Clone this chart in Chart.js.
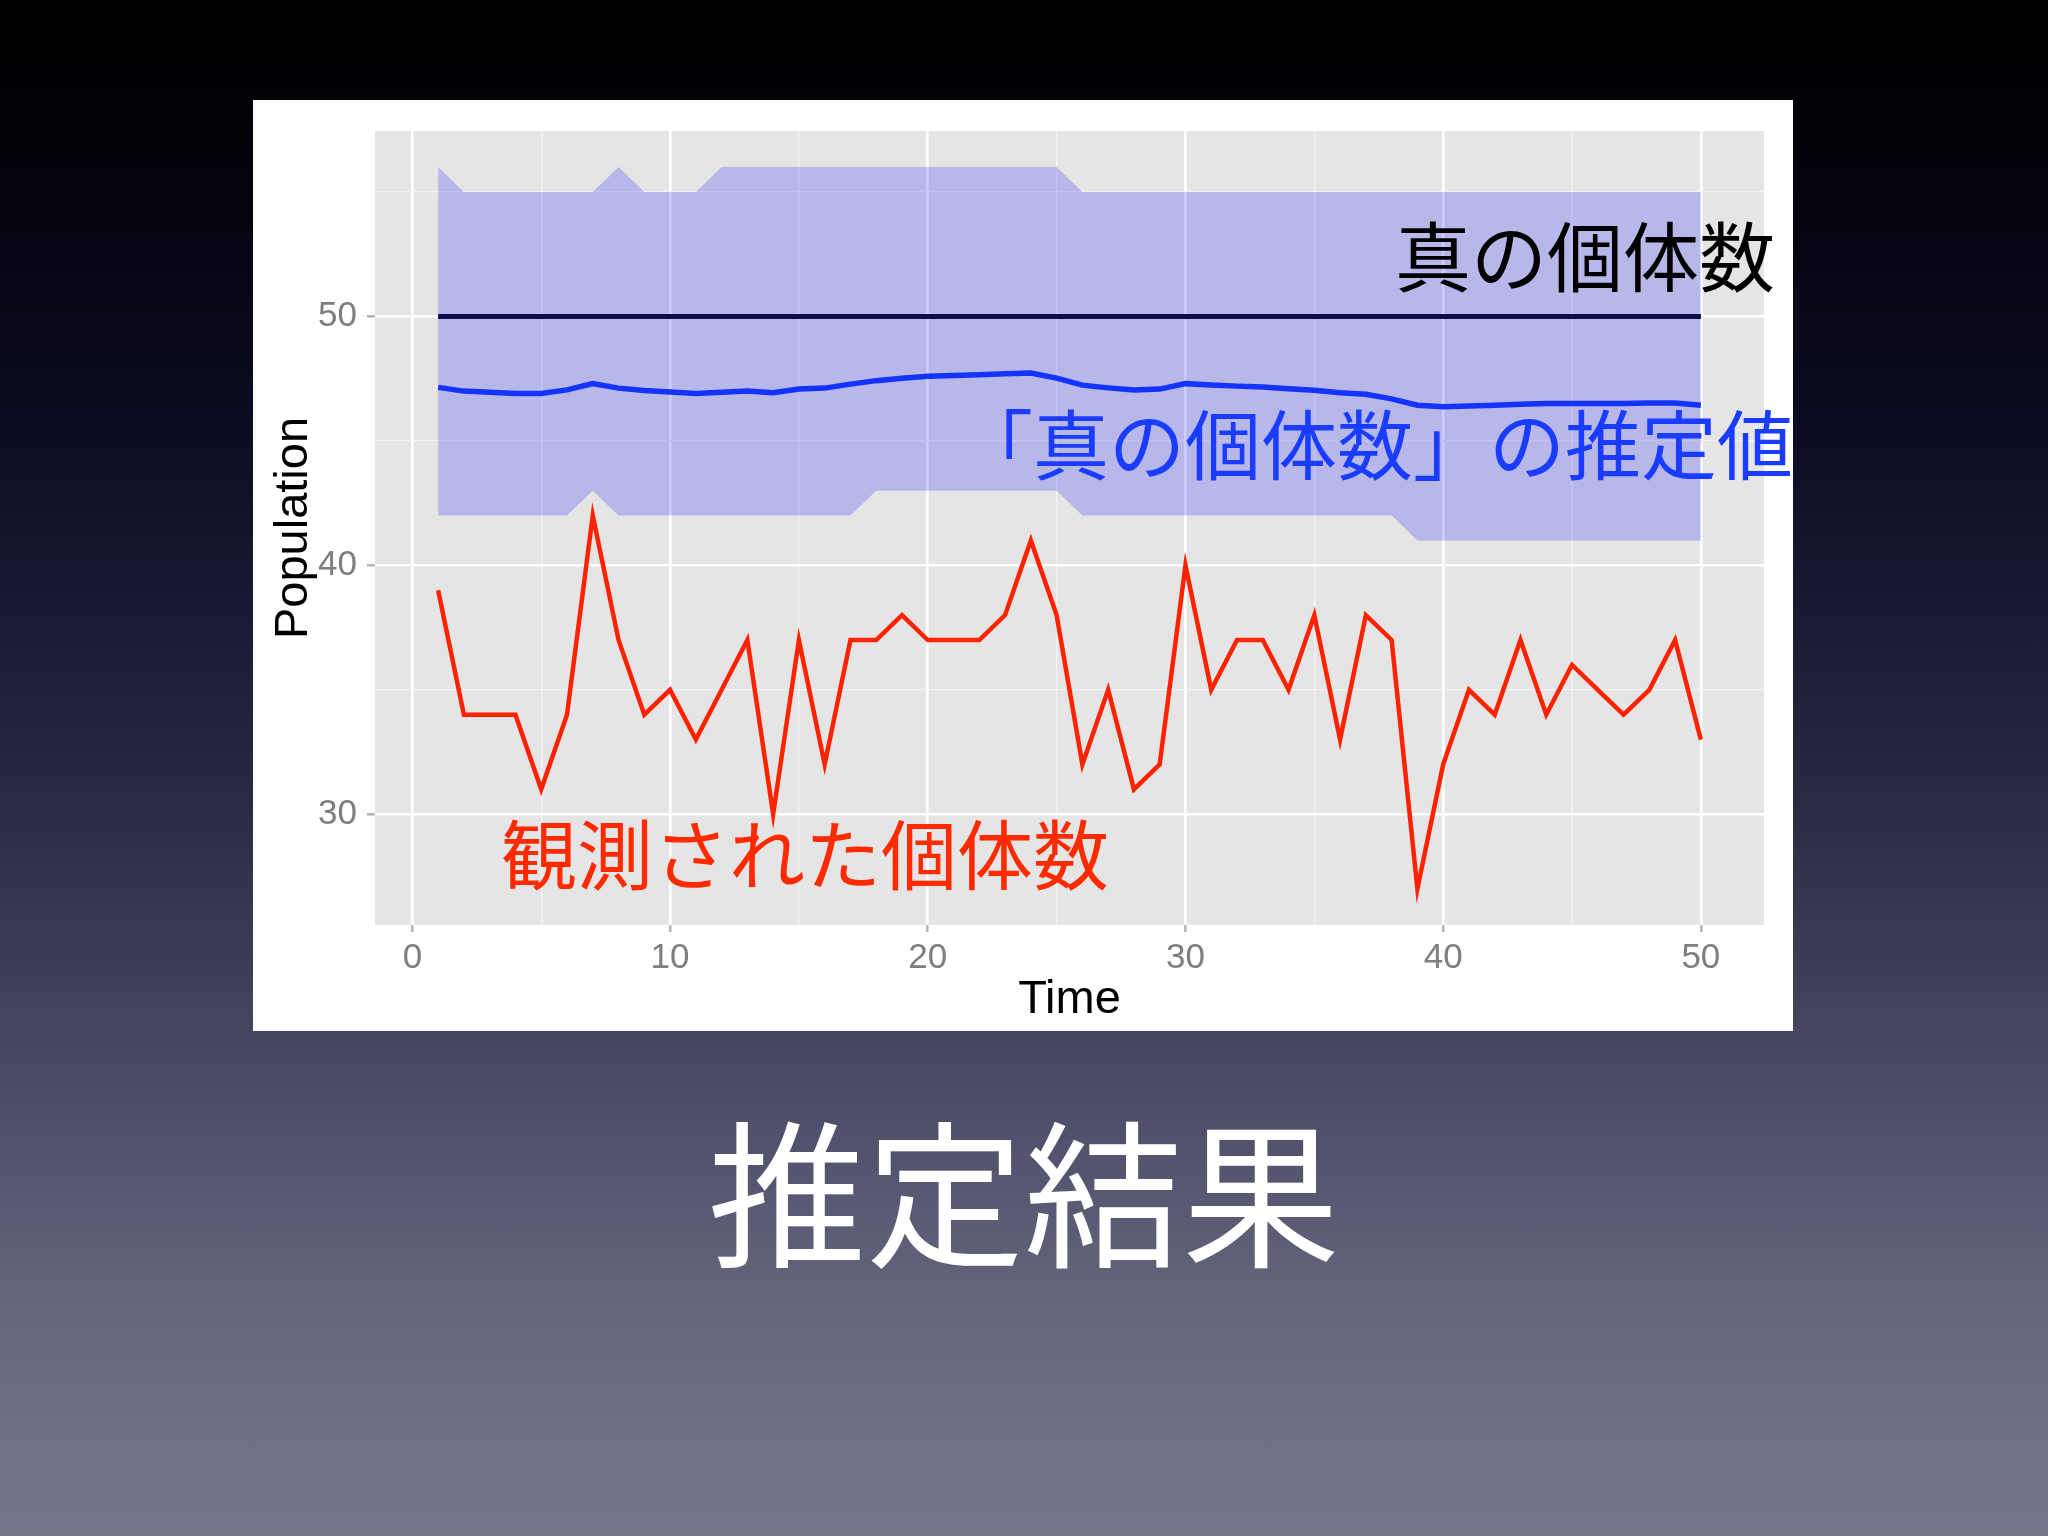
<!DOCTYPE html>
<html>
<head>
<meta charset="utf-8">
<script src="https://cdn.jsdelivr.net/npm/chart.js@4.4.1/dist/chart.umd.min.js"></script>
<style>
  html, body { margin: 0; padding: 0; }
  body {
    width: 2048px; height: 1536px; overflow: hidden; position: relative;
    background: linear-gradient(to bottom, #000000 0%, #03030c 12%, #0e0e26 30%, #262642 50%, #4a4a66 70%, #65657d 85%, #76768b 100%);
    font-family: "Noto Sans CJK JP", sans-serif;
  }
  #panel { position: absolute; left: 253px; top: 100px; width: 1540px; height: 931px; background: #ffffff; }
  .note { position: absolute; font-size: 76px; line-height: 1; white-space: nowrap; font-family: "Noto Sans CJK JP", sans-serif; }
  #title { position: absolute; left: 0; width: 2048px; top: 1108px; text-align: center; color: #ffffff; font-size: 158px; line-height: 1; font-family: "Noto Sans CJK JP", sans-serif; }
</style>
</head>
<body>
<div id="panel"><canvas id="popChart"></canvas></div>
<div class="note" style="left:1395px; top:215px; color:#000000;">真の個体数</div>
<div class="note" style="left:957px; top:403px; color:#1a3cff;">「真の個体数」の推定値</div>
<div class="note" style="left:501px; top:813px; color:#ff2a00;">観測された個体数</div>
<div id="title">推定結果</div>
<script>
const time = [1, 2, 3, 4, 5, 6, 7, 8, 9, 10, 11, 12, 13, 14, 15, 16, 17, 18, 19, 20,
    21, 22, 23, 24, 25, 26, 27, 28, 29, 30, 31, 32, 33, 34, 35, 36, 37, 38, 39, 40,
    41, 42, 43, 44, 45, 46, 47, 48, 49, 50];

// observed counts (red)
const observed = [39, 34, 34, 34, 31, 34, 42, 37, 34, 35, 33, 35, 37, 30, 37, 32, 37, 37, 38, 37,
    37, 37, 38, 41, 38, 32, 35, 31, 32, 40, 35, 37, 37, 35, 38, 33, 38, 37, 27, 32,
    35, 34, 37, 34, 36, 35, 34, 35, 37, 33];

// posterior median of true N (blue)
const estimate = [47.15, 47.0, 46.95, 46.9, 46.9, 47.05, 47.3, 47.12, 47.02, 46.96, 46.9, 46.95, 47.0, 46.93, 47.08, 47.12, 47.28, 47.42, 47.52, 47.6,
    47.63, 47.66, 47.7, 47.73, 47.52, 47.24, 47.13, 47.04, 47.08, 47.3, 47.25, 47.2, 47.16, 47.09, 47.03, 46.93, 46.87, 46.69, 46.43, 46.37,
    46.4, 46.43, 46.47, 46.5, 46.5, 46.5, 46.5, 46.52, 46.52, 46.43];

// credible interval
const upper = [56, 55, 55, 55, 55, 55, 55, 56, 55, 55, 55, 56, 56, 56, 56, 56, 56, 56, 56, 56,
    56, 56, 56, 56, 56, 55, 55, 55, 55, 55, 55, 55, 55, 55, 55, 55, 55, 55, 55, 55,
    55, 55, 55, 55, 55, 55, 55, 55, 55, 55];
const lower = [42, 42, 42, 42, 42, 42, 43, 42, 42, 42, 42, 42, 42, 42, 42, 42, 42, 43, 43, 43,
    43, 43, 43, 43, 43, 42, 42, 42, 42, 42, 42, 42, 42, 42, 42, 42, 42, 42, 41, 41,
    41, 41, 41, 41, 41, 41, 41, 41, 41, 41];

const trueN = 50;

const xTicks = [0, 5, 10, 15, 20, 25, 30, 35, 40, 45, 50];
const yTicks = [30, 35, 40, 45, 50, 55];

function pairs(values) {
    return time.map((t, i) => ({x: t, y: values[i]}));
}

const isMajor = (v) => v % 10 === 0;

const panelBg = {
    id: 'panelBg',
    beforeDraw(chart) {
        const {ctx, chartArea} = chart;
        ctx.save();
        ctx.fillStyle = '#e5e5e5';
        ctx.fillRect(chartArea.left, chartArea.top, chartArea.right - chartArea.left, chartArea.bottom - chartArea.top);
        ctx.restore();
    }
};

Chart.defaults.font.family = '"Liberation Sans", Arial, sans-serif';
Chart.defaults.animation = false;

new Chart(document.getElementById('popChart'), {
    type: 'line',
    data: {
        datasets: [{
            label: 'observed',
            data: pairs(observed),
            borderColor: '#ff2200',
            borderWidth: 4.5,
            pointRadius: 0,
            fill: false,
            order: 1
        }, {
            label: 'estimate',
            data: pairs(estimate),
            borderColor: '#1533ff',
            borderWidth: 5.5,
            pointRadius: 0,
            fill: false,
            order: 2
        }, {
            label: 'true',
            data: [{x: time[0], y: trueN}, {x: time[time.length - 1], y: trueN}],
            borderColor: '#0b0b4d',
            borderWidth: 5,
            pointRadius: 0,
            fill: false,
            order: 3
        }, {
            label: 'lower',
            data: pairs(lower),
            borderWidth: 0,
            borderColor: 'rgba(0,0,0,0)',
            pointRadius: 0,
            fill: false,
            order: 5
        }, {
            label: 'upper',
            data: pairs(upper),
            borderWidth: 0,
            borderColor: 'rgba(0,0,0,0)',
            backgroundColor: 'rgba(0, 0, 255, 0.2)',
            pointRadius: 0,
            fill: '-1',
            order: 4
        }]
    },
    options: {
        responsive: true,
        maintainAspectRatio: false,
        layout: {padding: {top: 28, right: 29, left: 0, bottom: 0}},
        plugins: {
            legend: {display: false},
            tooltip: {enabled: false}
        },
        scales: {
            x: {
                type: 'linear',
                min: -1.45,
                max: 52.45,
                afterBuildTicks: (axis) => { axis.ticks = xTicks.map(v => ({value: v})); },
                afterFit: (axis) => { axis.height = 106; },
                border: {display: false},
                grid: {
                    color: (c) => isMajor(c.tick.value) ? '#ffffff' : '#f3f3f3',
                    lineWidth: (c) => isMajor(c.tick.value) ? 2.6 : 1.3,
                    tickColor: (c) => isMajor(c.tick.value) ? '#b5b5b5' : 'rgba(0,0,0,0)',
                    tickWidth: 2.5,
                    tickLength: 7
                },
                ticks: {
                    autoSkip: false,
                    maxRotation: 0,
                    padding: 5,
                    color: '#7f7f7f',
                    font: {size: 35},
                    callback: (v) => isMajor(v) ? String(v) : ''
                },
                title: {
                    display: true,
                    text: 'Time',
                    color: '#000000',
                    font: {size: 47},
                    padding: {top: 0, bottom: 3}
                }
            },
            y: {
                type: 'linear',
                min: 25.55,
                max: 57.45,
                afterBuildTicks: (axis) => { axis.ticks = yTicks.map(v => ({value: v})); },
                afterFit: (axis) => { axis.width = 122; },
                border: {display: false},
                grid: {
                    color: (c) => isMajor(c.tick.value) ? '#ffffff' : '#f3f3f3',
                    lineWidth: (c) => isMajor(c.tick.value) ? 2.6 : 1.3,
                    tickColor: (c) => isMajor(c.tick.value) ? '#b5b5b5' : 'rgba(0,0,0,0)',
                    tickWidth: 2.5,
                    tickLength: 8
                },
                ticks: {
                    autoSkip: false,
                    padding: 10,
                    color: '#7f7f7f',
                    font: {size: 35},
                    callback: (v) => isMajor(v) ? String(v) : ''
                },
                title: {
                    display: true,
                    text: 'Population',
                    color: '#000000',
                    font: {size: 47},
                    padding: {top: 13, bottom: 0}
                }
            }
        }
    },
    plugins: [panelBg]
});
</script>
</body>
</html>
